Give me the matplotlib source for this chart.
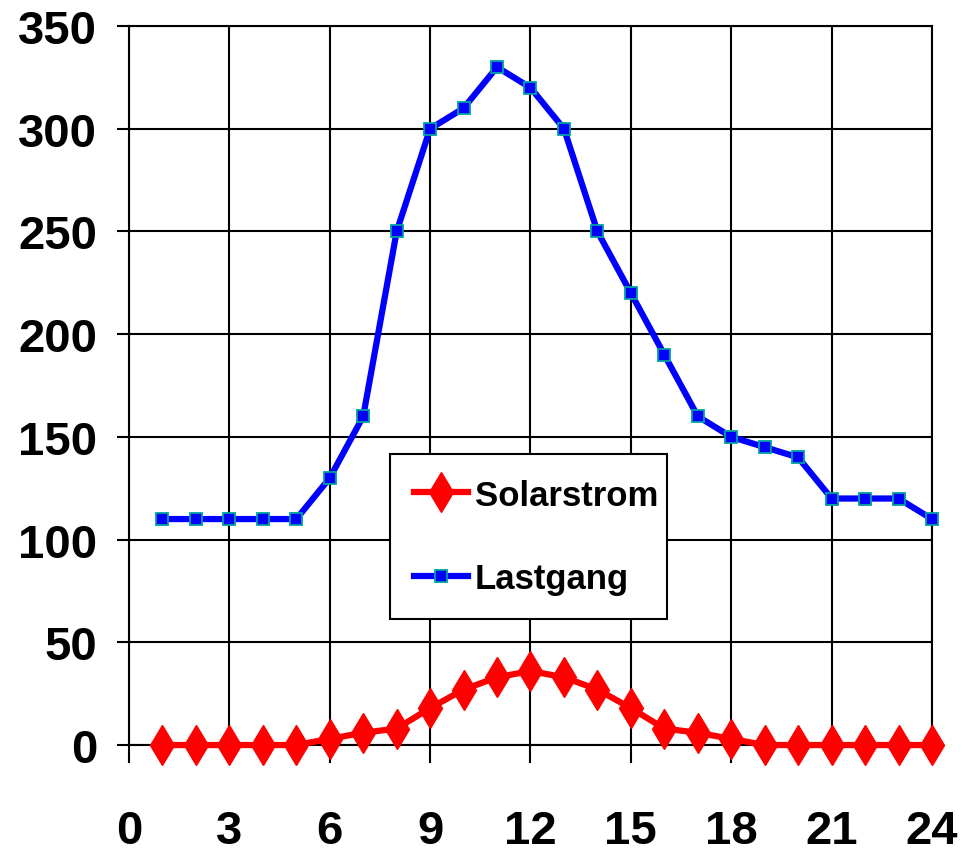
import matplotlib.pyplot as plt

# hours of day
hours = list(range(1, 25))
solarstrom = [0, 0, 0, 0, 0, 3, 6, 8, 18, 27, 33, 36, 33, 27, 18, 8, 6, 3, 0, 0, 0, 0, 0, 0]
lastgang = [110, 110, 110, 110, 110, 130, 160, 250, 300, 310, 330, 320, 300, 250, 220, 190,
            160, 150, 145, 140, 120, 120, 120, 110]
xticks = list(range(0, 25, 3))
yticks = list(range(0, 351, 50))

plt.rcParams['font.family'] = ['Liberation Sans', 'DejaVu Sans']
plt.rcParams['font.weight'] = 'bold'

fig = plt.figure(figsize=(9.67, 8.53), dpi=100)
ax = fig.add_axes([0.1334, 0.1254, 0.8304, 0.8429])

ax.plot(hours, solarstrom, color='#ff0000', lw=4.5, marker='d', ms=20,
        mfc='#ff0000', mec='#ff0000', label='Solarstrom', zorder=3, clip_on=False)
ax.plot(hours, lastgang, color='#0000ff', lw=4.5, marker='s', ms=8,
        mfc='#0000ff', mec='#00a0a0', mew=1.3, label='Lastgang', zorder=4, clip_on=False)

ax.set_xlim(0, 24)
ax.set_ylim(0, 350)
ax.set_xticks(xticks)
ax.set_yticks(yticks)
ax.grid(True, color='black', lw=1.5)
ax.set_axisbelow(True)
for s in ax.spines.values():
    s.set_color('black')
    s.set_linewidth(1.5)
ax.tick_params(axis='x', direction='out', length=13, width=1.5, pad=33, labelsize=34)
ax.tick_params(axis='y', direction='out', length=9, width=1.5, pad=14, labelsize=34)

leg = ax.legend(loc='upper left', bbox_to_anchor=(0.325, 0.1725, 0.345, 0.232),
                mode='expand', fontsize=25, frameon=True, fancybox=False,
                edgecolor='black', framealpha=1, borderpad=0.7, labelspacing=1.45,
                handlelength=1.55, handletextpad=0.2, borderaxespad=0)
leg.get_frame().set_linewidth(1.5)
leg.set_zorder(5)

fig.savefig('out.png', dpi=100)
